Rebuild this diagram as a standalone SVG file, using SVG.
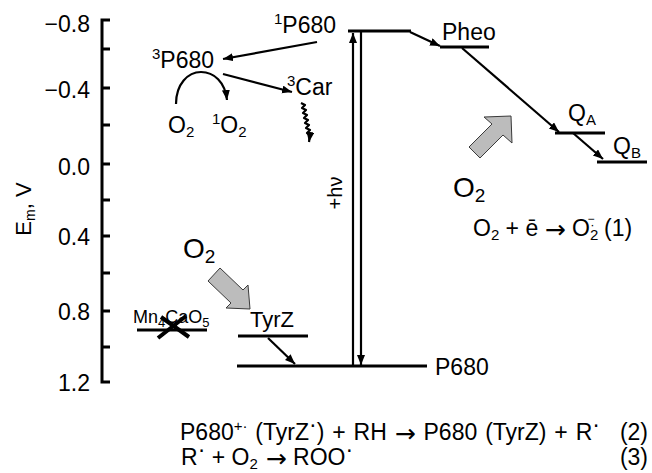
<svg xmlns="http://www.w3.org/2000/svg" width="652" height="473" viewBox="0 0 652 473">
<defs>
<marker id="ah" markerUnits="userSpaceOnUse" markerWidth="12" markerHeight="10" refX="10" refY="4" orient="auto">
<path d="M0,0 L10,4 L0,8 z" fill="#000"/>
</marker>
<style>
text{font-family:"Liberation Sans",Arial,Helvetica,sans-serif;fill:#000}
.lab{font-size:23px}
.tick{font-size:23px;text-anchor:end}
.eq{font-size:23px}
.sup{font-size:15px}
.ar{font-family:"DejaVu Sans",sans-serif;font-size:25px}
.lvl{stroke:#000;stroke-width:3;fill:none}
.arr{stroke:#000;stroke-width:2.2;fill:none;marker-end:url(#ah)}
.block{fill:#bcbcbc;stroke:#3a3a3a;stroke-width:1}
</style>
</defs>
<rect width="652" height="473" fill="#fff"/>

<g id="axis">
<path d="M110,20 H102 V382 H110" fill="none" stroke="#000" stroke-width="3"/>
<path d="M102,49 H110 M102,88 H110 M102,125 H110 M102,164 H110 M102,200 H110 M102,236 H110 M102,273 H110 M102,311 H110 M102,347 H110" stroke="#000" stroke-width="3"/>
<text class="tick" x="90" y="32">−0.8</text>
<text class="tick" x="90" y="98">−0.4</text>
<text class="tick" x="90" y="175">0.0</text>
<text class="tick" x="90" y="245">0.4</text>
<text class="tick" x="90" y="320">0.8</text>
<text class="tick" x="90" y="391">1.2</text>
<text transform="translate(31,209) rotate(-90)" text-anchor="middle" font-size="22">E<tspan font-size="14" dy="4">m</tspan><tspan dy="-4">, V</tspan></text>
</g>

<g id="P680-singlet">
<line class="lvl" x1="348" y1="31" x2="411" y2="31"/>
<text class="lab" x="274" y="33"><tspan class="sup" dy="-9">1</tspan><tspan dy="9">P680</tspan></text>
</g>

<g id="P680-triplet">
<text class="lab" x="152" y="68"><tspan class="sup" dy="-9">3</tspan><tspan dy="9">P680</tspan></text>
</g>

<g id="Car-triplet">
<text class="lab" x="287" y="95"><tspan class="sup" dy="-9">3</tspan><tspan dy="9">Car</tspan></text>
</g>

<g id="O2-singlet">
<text class="lab" x="168" y="133">O<tspan class="sup" dy="4">2</tspan></text>
<text class="lab" x="212" y="133"><tspan class="sup" dy="-9">1</tspan><tspan dy="9">O</tspan><tspan class="sup" dy="4">2</tspan></text>
</g>

<g id="Pheo">
<line class="lvl" x1="440" y1="47" x2="489" y2="47"/>
<text class="lab" x="442" y="40">Pheo</text>
</g>

<g id="QA">
<line class="lvl" x1="555" y1="133" x2="605" y2="133"/>
<text class="lab" x="568" y="121">Q<tspan class="sup" dy="4">A</tspan></text>
</g>

<g id="QB">
<line class="lvl" x1="597" y1="162" x2="647" y2="162"/>
<text class="lab" x="613" y="154">Q<tspan class="sup" dy="4">B</tspan></text>
</g>

<g id="TyrZ">
<line class="lvl" x1="238" y1="336" x2="308" y2="336"/>
<text x="250" y="327" font-size="22">TyrZ</text>
</g>

<g id="P680-ground">
<line class="lvl" x1="237" y1="366" x2="427" y2="366"/>
<text class="lab" x="435" y="375">P680</text>
</g>

<g id="Mn4CaO5">
<line class="lvl" x1="137" y1="330" x2="207" y2="330"/>
<text x="133" y="323" font-size="18">Mn<tspan font-size="13" dy="4">4</tspan><tspan dy="-4">CaO</tspan><tspan font-size="13" dy="4">5</tspan></text>
<path d="M161,317 L189,337 M186,316 L158,338" stroke="#000" stroke-width="4"/>
</g>

<g id="O2-upper">
<path class="block" d="M511,116 L512,143 L503,135 L480,158 L469,147 L492,124 L484,117 Z"/>
<text x="453" y="197" font-size="28">O<tspan font-size="19" dy="5">2</tspan></text>
</g>

<g id="O2-lower">
<path class="block" d="M250,309 L226,308 L231,303 L208,281 L220,268 L243,290 L248,285 Z"/>
<text x="183" y="258" font-size="28">O<tspan font-size="19" dy="5">2</tspan></text>
</g>

<g id="hv">
<text transform="translate(342,193) rotate(-90)" text-anchor="middle" font-size="20">+hν</text>
</g>

<g id="connectors">
<line class="arr" x1="317" y1="42" x2="223" y2="59"/>
<line class="arr" x1="223" y1="74" x2="292" y2="92"/>
<path class="arr" d="M176,104 C176,84 188,72 201,72 C214,72 225,82 227,100"/>
<path class="arr" stroke-width="2.6" stroke-linejoin="round" d="M301,103 l4,2 l-3,3 l4,2 l-3,3 l4,2 l-3,3 l4,2 l-3,3 l4,2 l-3,3 l4,2 l-3,3 l3,2 l-1,7"/>
<line class="arr" x1="410" y1="32" x2="440" y2="46"/>
<line class="arr" x1="462" y1="48" x2="559" y2="132"/>
<line class="arr" x1="573" y1="133" x2="603" y2="159"/>
<line class="arr" x1="268" y1="338" x2="295" y2="364"/>
<line class="arr" stroke-width="3" x1="353" y1="366" x2="353" y2="33"/>
<line class="arr" stroke-width="3" x1="361" y1="32" x2="361" y2="365"/>
</g>

<g id="equations">
<text class="eq" x="473" y="236">O<tspan class="sup" dy="4">2</tspan><tspan dy="-4"> + ē </tspan><tspan class="ar" dy="2">→</tspan><tspan dy="-2"> O</tspan><tspan class="sup" dy="4">2</tspan><tspan font-size="13" dx="-8" dy="-11">·</tspan><tspan font-size="12" dx="-7" dy="-6">−</tspan></text>
<text class="eq" x="604" y="236">(1)</text>

<text class="eq" x="180" y="440" word-spacing="1.5">P680<tspan class="sup" dy="-9">+·</tspan><tspan dy="9"> (TyrZ</tspan><tspan dy="-8">·</tspan><tspan dy="8">) + RH </tspan><tspan class="ar" dy="2">→</tspan><tspan dy="-2"> P680 (TyrZ) + R</tspan><tspan dy="-8">·</tspan></text>
<text class="eq" x="648" y="440" text-anchor="end">(2)</text>
<text class="eq" x="181" y="465">R<tspan dy="-8">·</tspan><tspan dy="8"> + O</tspan><tspan class="sup" dy="4">2</tspan><tspan class="ar" dy="-2"> →</tspan><tspan dy="-2"> ROO</tspan><tspan dy="-8">·</tspan></text>
<text class="eq" x="648" y="465" text-anchor="end">(3)</text>
</g>
</svg>
